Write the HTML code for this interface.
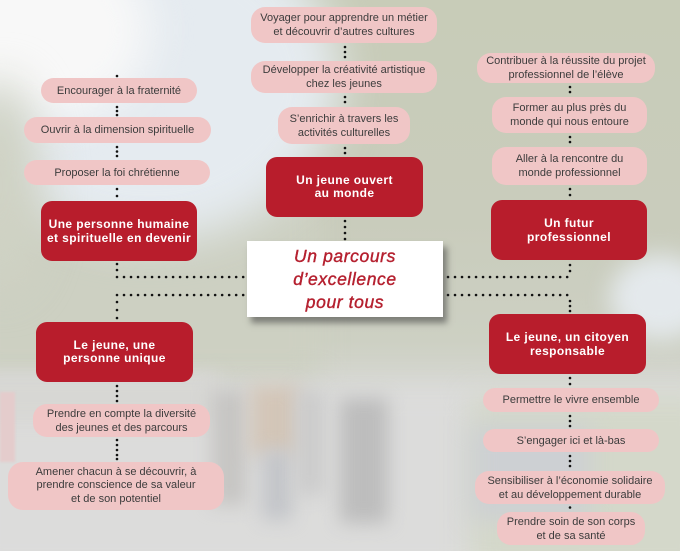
<!DOCTYPE html>
<html><head><meta charset="utf-8">
<style>
html{margin:0;padding:0;width:680px;height:551px;overflow:hidden;}
body{margin:0;padding:0;width:680px;height:551px;overflow:hidden;position:relative;background:#d2d4c9;font-family:"Liberation Sans",sans-serif;}
.bg{position:absolute;left:0;top:0;width:680px;height:551px;overflow:hidden;contain:paint;clip-path:inset(0 0 0 0);background:linear-gradient(to bottom,#c8ccb8 0%,#c9ccbc 40%,#cdd0c3 62%,#d8d9d5 72%,#dcdcdb 100%);}
.b{position:absolute;border-radius:50%;filter:blur(22px);}
.r{position:absolute;filter:blur(14px);}
.pill{position:absolute;background:#f0c6c6;color:#3c3c3c;font-size:11px;line-height:14px;display:flex;align-items:center;justify-content:center;text-align:center;border-radius:13px;box-sizing:border-box;}
.red{position:absolute;background:#b81d2c;color:#fff;font-weight:bold;font-size:12px;letter-spacing:0.4px;line-height:14px;display:flex;align-items:center;justify-content:center;text-align:center;border-radius:11px;}
.center{position:absolute;left:247px;top:241px;width:196px;height:76px;background:#fff;box-shadow:4px 6px 6px rgba(60,60,60,0.55);display:flex;align-items:center;justify-content:center;text-align:center;color:#b5202f;font-style:italic;font-size:17.5px;line-height:23px;letter-spacing:0.6px;-webkit-text-stroke:0.4px #b5202f;}
svg{position:absolute;left:0;top:0;}
</style></head><body>
<div class="bg">
  <div class="r" style="left:-30px;top:170px;width:350px;height:210px;background:#cdd0c2;"></div>
  <div class="b" style="left:-40px;top:-80px;width:380px;height:320px;background:#e5ebf0;"></div>
  <div class="b" style="left:-60px;top:-60px;width:210px;height:180px;background:#f8f8f8;"></div>
  <div class="b" style="left:-40px;top:80px;width:80px;height:210px;background:#cfd2c4;"></div>
  <div class="b" style="left:610px;top:255px;width:100px;height:85px;background:#e4e9ec;filter:blur(12px);"></div>
  <div class="r" style="left:-30px;top:385px;width:740px;height:190px;background:#dcdcdb;"></div>
  <div class="r" style="left:470px;top:395px;width:240px;height:180px;background:#d4d8ca;"></div>
  <div class="r" style="left:-30px;top:372px;width:250px;height:50px;background:#d7d7d4;filter:blur(8px);"></div>
  <div style="position:absolute;left:0;top:392px;width:15px;height:70px;background:#e4cccc;filter:blur(1px);"></div>
  <div class="r" style="left:212px;top:390px;width:34px;height:115px;background:#c6c5c3;filter:blur(9px);"></div>
  <div class="r" style="left:250px;top:385px;width:50px;height:70px;background:#d3c6b8;filter:blur(9px);"></div>
  <div class="r" style="left:262px;top:450px;width:30px;height:70px;background:#c3c5c9;filter:blur(9px);"></div>
  <div class="r" style="left:296px;top:390px;width:28px;height:105px;background:#cbcbcb;filter:blur(9px);"></div>
  <div class="r" style="left:340px;top:398px;width:48px;height:125px;background:#bdbdbd;filter:blur(9px);"></div>
  <div class="r" style="left:470px;top:425px;width:120px;height:95px;background:#cdd0d3;filter:blur(12px);"></div>
</div>

<svg width="680" height="551">
<g fill="#111">
<circle cx="117" cy="76" r="1.3"/>
<circle cx="117" cy="107" r="1.3"/><circle cx="117" cy="111" r="1.3"/><circle cx="117" cy="115" r="1.3"/>
<circle cx="117" cy="147" r="1.3"/><circle cx="117" cy="151.5" r="1.3"/><circle cx="117" cy="156" r="1.3"/>
<circle cx="117" cy="189" r="1.3"/><circle cx="117" cy="196" r="1.3"/>
<circle cx="117" cy="264" r="1.3"/><circle cx="117" cy="270" r="1.3"/>
<circle cx="117" cy="302" r="1.3"/><circle cx="117" cy="310" r="1.3"/><circle cx="117" cy="318" r="1.3"/>
<circle cx="117" cy="386" r="1.3"/><circle cx="117" cy="391" r="1.3"/><circle cx="117" cy="396" r="1.3"/><circle cx="117" cy="401" r="1.3"/>
<circle cx="117" cy="440" r="1.3"/><circle cx="117" cy="445" r="1.3"/><circle cx="117" cy="450" r="1.3"/><circle cx="117" cy="455" r="1.3"/><circle cx="117" cy="459" r="1.3"/>
<circle cx="345" cy="47" r="1.3"/><circle cx="345" cy="52" r="1.3"/><circle cx="345" cy="57" r="1.3"/>
<circle cx="345" cy="97" r="1.3"/><circle cx="345" cy="102" r="1.3"/>
<circle cx="345" cy="148" r="1.3"/><circle cx="345" cy="153" r="1.3"/>
<circle cx="345" cy="221" r="1.3"/><circle cx="345" cy="227" r="1.3"/><circle cx="345" cy="233" r="1.3"/><circle cx="345" cy="239" r="1.3"/>
<circle cx="570" cy="87" r="1.3"/><circle cx="570" cy="92" r="1.3"/>
<circle cx="570" cy="137" r="1.3"/><circle cx="570" cy="142" r="1.3"/>
<circle cx="570" cy="189" r="1.3"/><circle cx="570" cy="195" r="1.3"/>
<circle cx="570" cy="265" r="1.3"/><circle cx="570" cy="271" r="1.3"/>
<circle cx="570" cy="301" r="1.3"/><circle cx="570" cy="306" r="1.3"/><circle cx="570" cy="311" r="1.3"/>
<circle cx="570" cy="378" r="1.3"/><circle cx="570" cy="384" r="1.3"/>
<circle cx="570" cy="416" r="1.3"/><circle cx="570" cy="421" r="1.3"/><circle cx="570" cy="426" r="1.3"/>
<circle cx="570" cy="456" r="1.3"/><circle cx="570" cy="461" r="1.3"/><circle cx="570" cy="466" r="1.3"/>
<circle cx="570" cy="507.5" r="1.3"/>
</g>
<g stroke="#111" stroke-width="2.6" stroke-linecap="round" stroke-dasharray="0.01 7" fill="none">
<line x1="117" y1="277" x2="244" y2="277"/>
<line x1="117" y1="295" x2="244" y2="295"/>
<line x1="448" y1="277" x2="571" y2="277"/>
<line x1="448" y1="295" x2="571" y2="295"/>
</g>
</svg>

<div class="pill" style="left:41px;top:78px;width:156px;height:25px;">Encourager à la fraternité</div>
<div class="pill" style="left:24px;top:117px;width:187px;height:26px;">Ouvrir à la dimension spirituelle</div>
<div class="pill" style="left:24px;top:160px;width:186px;height:25px;">Proposer la foi chrétienne</div>
<div class="pill" style="left:251px;top:7px;width:186px;height:36px;border-radius:14px;">Voyager pour apprendre un métier<br>et découvrir d’autres cultures</div>
<div class="pill" style="left:251px;top:61px;width:186px;height:32px;border-radius:14px;">Développer la créativité artistique<br>chez les jeunes</div>
<div class="pill" style="left:278px;top:107px;width:132px;height:37px;border-radius:14px;">S’enrichir à travers les<br>activités culturelles</div>
<div class="pill" style="left:477px;top:53px;width:178px;height:30px;border-radius:14px;">Contribuer à la réussite du projet<br>professionnel de l’élève</div>
<div class="pill" style="left:492px;top:97px;width:155px;height:36px;border-radius:14px;">Former au plus près du<br>monde qui nous entoure</div>
<div class="pill" style="left:492px;top:147px;width:155px;height:38px;border-radius:14px;">Aller à la rencontre du<br>monde professionnel</div>
<div class="pill" style="left:33px;top:404px;width:177px;height:33px;border-radius:14px;">Prendre en compte la diversité<br>des jeunes et des parcours</div>
<div class="pill" style="left:8px;top:462px;width:216px;height:48px;border-radius:15px;line-height:13.5px;">Amener chacun à se découvrir, à<br>prendre conscience de sa valeur<br>et de son potentiel</div>
<div class="pill" style="left:483px;top:388px;width:176px;height:24px;">Permettre le vivre ensemble</div>
<div class="pill" style="left:483px;top:429px;width:176px;height:23px;">S’engager ici et là-bas</div>
<div class="pill" style="left:475px;top:471px;width:190px;height:33px;border-radius:14px;">Sensibiliser à l’économie solidaire<br>et au développement durable</div>
<div class="pill" style="left:497px;top:512px;width:148px;height:33px;border-radius:14px;">Prendre soin de son corps<br>et de sa santé</div>

<div class="red" style="left:41px;top:201px;width:156px;height:60px;">Une personne humaine<br>et spirituelle en devenir</div>
<div class="red" style="left:266px;top:157px;width:157px;height:60px;line-height:13px;">Un jeune ouvert<br>au monde</div>
<div class="red" style="left:491px;top:200px;width:156px;height:60px;">Un futur<br>professionnel</div>
<div class="red" style="left:36px;top:322px;width:157px;height:60px;line-height:13px;">Le jeune, une<br>personne unique</div>
<div class="red" style="left:489px;top:314px;width:157px;height:60px;">Le jeune, un citoyen<br>responsable</div>

<div class="center">Un parcours<br>d’excellence<br>pour tous</div>
</body></html>
